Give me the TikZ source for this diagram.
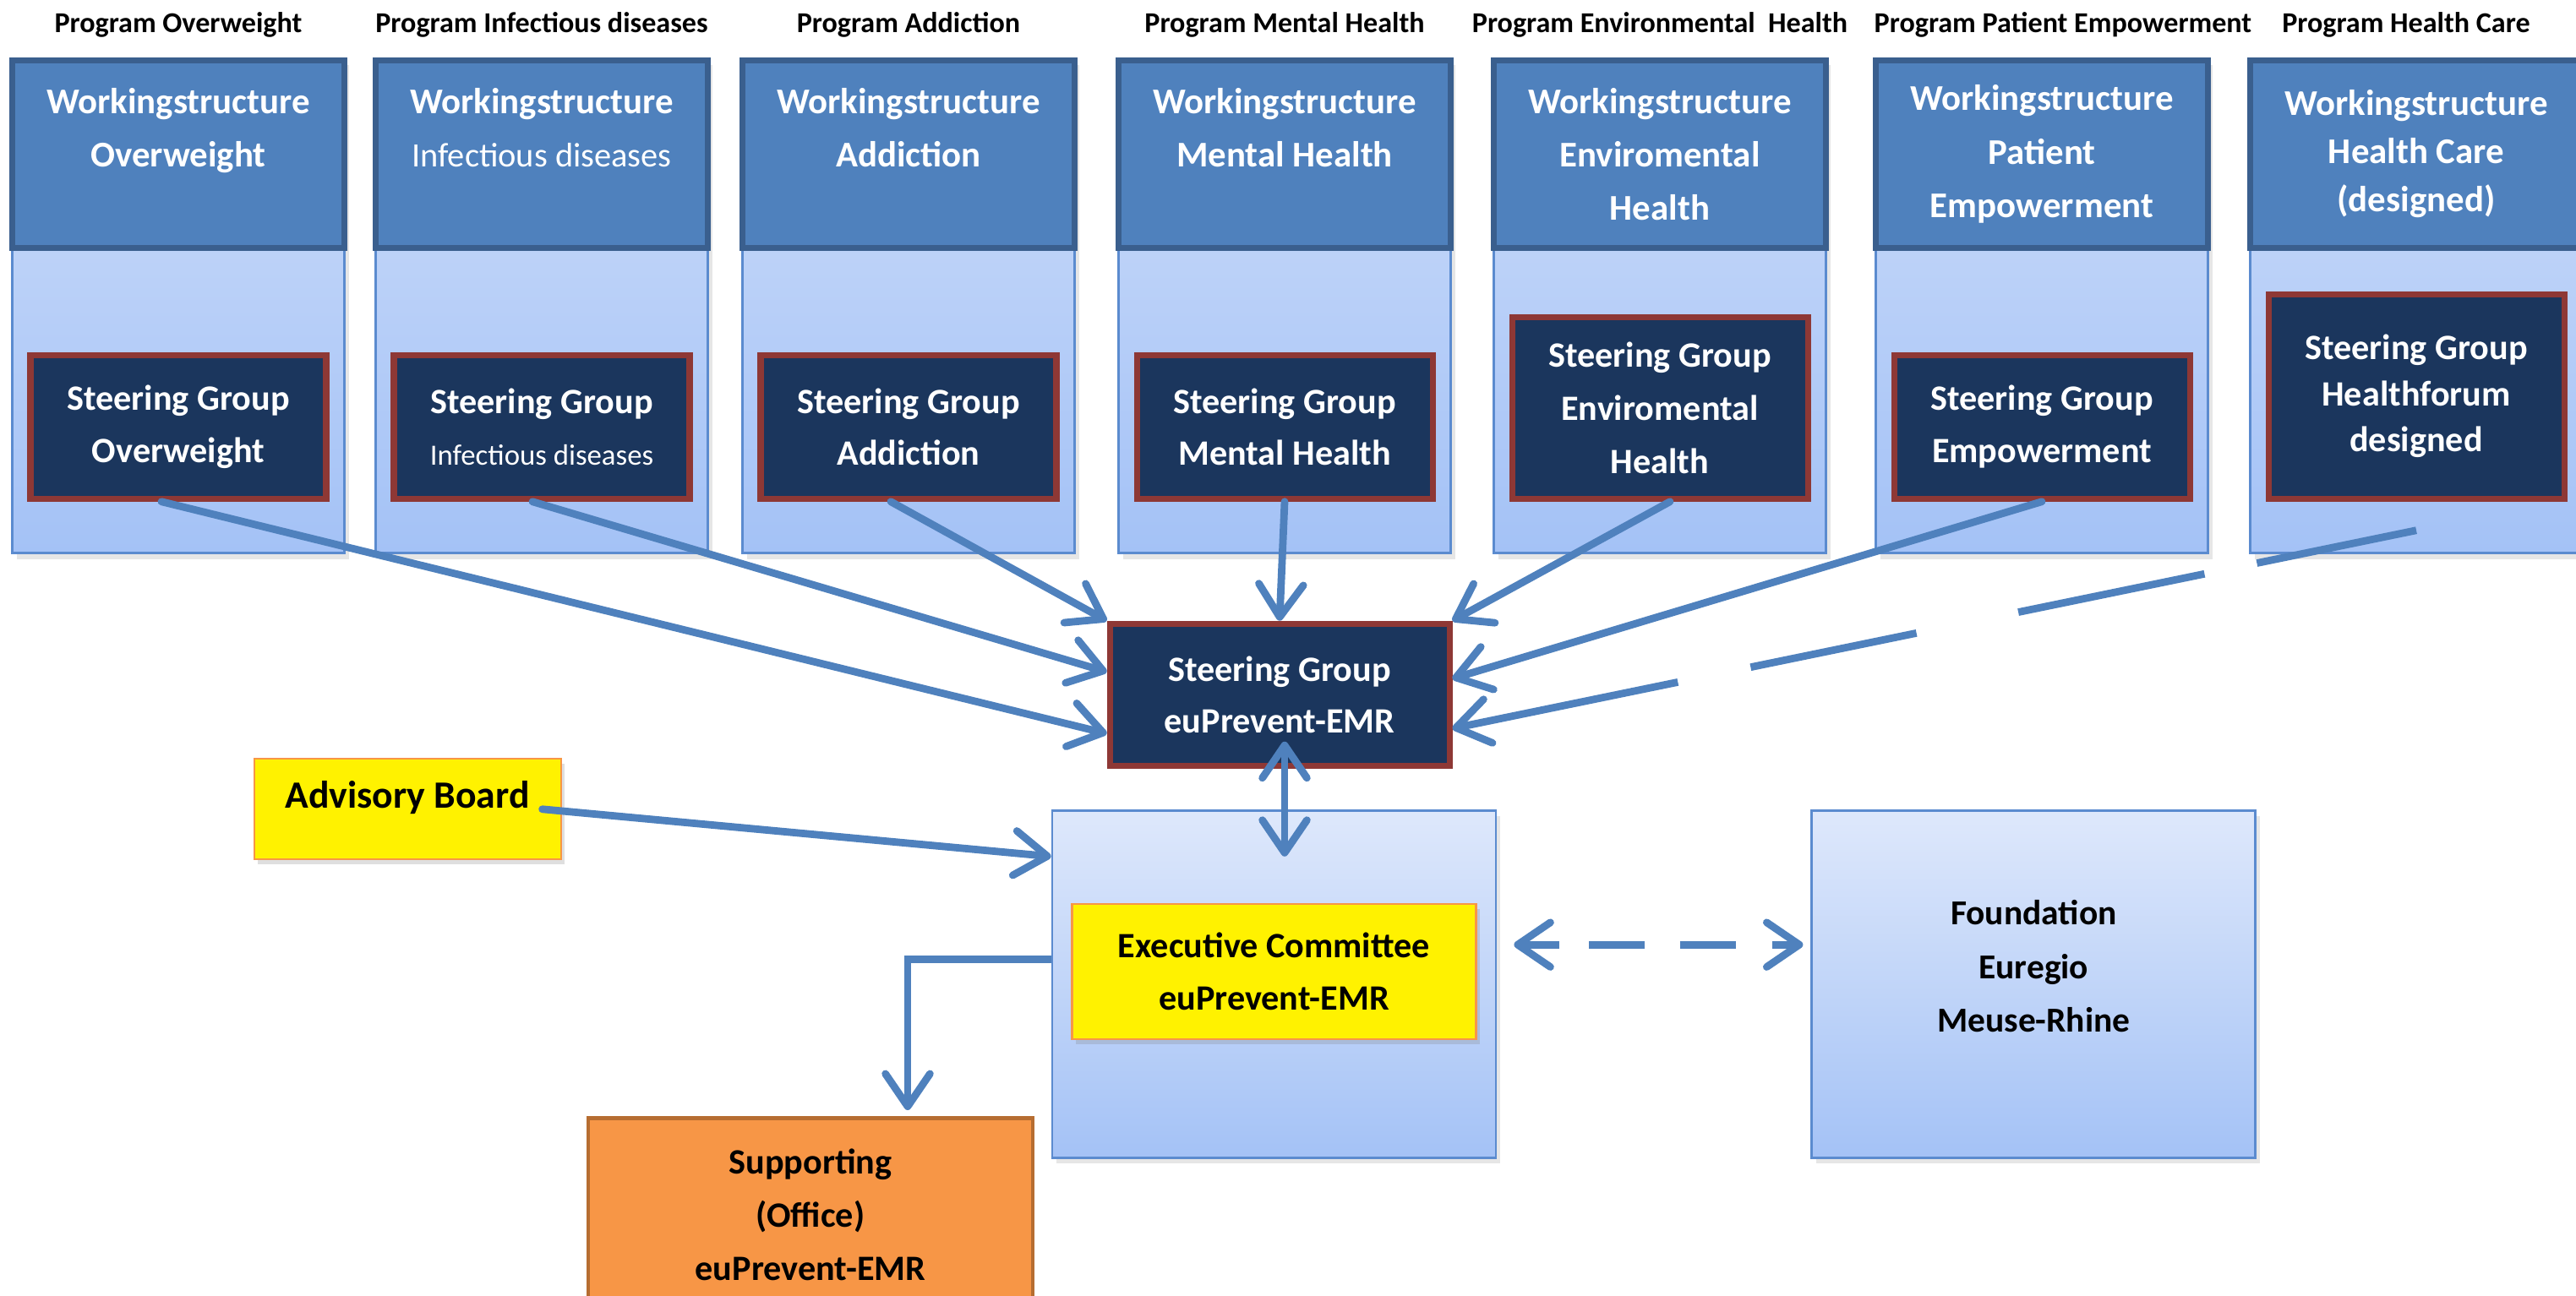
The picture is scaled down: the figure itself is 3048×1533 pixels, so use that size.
\documentclass[tikz,border=0pt]{standalone}
\usepackage{xcolor}
\usepackage{fontspec}
\setmainfont{Carlito}
\usepackage{tikz}
\usetikzlibrary{arrows.meta}
\usetikzlibrary{positioning,shadows}

\definecolor{wsblue}{HTML}{4F81BD}
\definecolor{wsline}{HTML}{3A5F8E}
\definecolor{colline}{HTML}{5B8BCF}
\definecolor{coltop}{HTML}{CCDCFA}
\definecolor{colbot}{HTML}{A4C2F6}
\definecolor{bigtop}{HTML}{DEE8FB}
\definecolor{sgnavy}{HTML}{1B365D}
\definecolor{sgred}{HTML}{8E3835}
\definecolor{ybline}{HTML}{F79646}
\definecolor{offfill}{HTML}{F79646}
\definecolor{offline}{HTML}{B66D31}

\begin{document}
\begin{tikzpicture}[x=0.1mm, y=-0.1mm, >={Straight Barb[length=11pt,width=15pt,round]}]
		\tikzstyle{proglabel}=[inner sep=0pt, font=\fontsize{9.7}{11}\selectfont\bfseries]
		\tikzstyle{column}=[draw=colline, line width=0.7pt, top color=coltop, bottom color=colbot, minimum width=39.3mm, minimum height=58.5mm, inner sep=0pt, drop shadow={opacity=0.2, shadow xshift=0.5mm, shadow yshift=-0.7mm}]
		\tikzstyle{wshead}=[draw=wsline, line width=1.8pt, fill=wsblue, text=white, minimum width=39.3mm, minimum height=22.2mm, inner sep=0pt, align=center, font=\fontsize{12.2}{18}\selectfont\bfseries]
		\tikzstyle{sgbox}=[draw=sgred, line width=2pt, fill=sgnavy, text=white, minimum width=35mm, minimum height=17mm, inner sep=0pt, align=center, font=\fontsize{12}{17.5}\selectfont\bfseries]
		\tikzstyle{bigbox}=[draw=colline, line width=0.8pt, top color=bigtop, bottom color=colbot, minimum width=52.5mm, minimum height=41.1mm, inner sep=0pt, align=center, font=\fontsize{11.8}{18}\selectfont\bfseries, drop shadow={opacity=0.2, shadow xshift=0.5mm, shadow yshift=-0.7mm}]
		\tikzstyle{yellowbox}=[draw=ybline, line width=0.6pt, fill=yellow, inner sep=0pt, align=center, font=\fontsize{12}{17.5}\selectfont\bfseries, drop shadow={opacity=0.25, shadow xshift=0.4mm, shadow yshift=-0.6mm}]
		\tikzstyle{office}=[draw=offline, line width=1.4pt, fill=offfill, minimum width=52.6mm, minimum height=22.8mm, inner sep=0pt, align=center, font=\fontsize{12}{17.9}\selectfont\bfseries]
		\tikzstyle{link}=[draw=wsblue, line width=2.5pt, line cap=round]
		\tikzstyle{dashlink}=[draw=wsblue, line width=2.5pt]
		\clip (0,0) rectangle (3048,1533);
		% programs
		\node[column] (col1) at (211,362) {};
		\node[column] (col2) at (641,362) {};
		\node[column] (col3) at (1075,362) {};
		\node[column] (col4) at (1520,362) {};
		\node[column] (col5) at (1964,362) {};
		\node[column] (col6) at (2416,362) {};
		\node[column] (col7) at (2859,362) {};
		\node[proglabel, above=2.3mm of col1.north] (pg1) {Program Overweight};
		\node[proglabel, above=2.3mm of col2.north] (pg2) {Program Infectious diseases};
		\node[proglabel, above=2.3mm of col3.north] (pg3) {Program Addiction};
		\node[proglabel, above=2.3mm of col4.north] (pg4) {Program Mental Health};
		\node[proglabel, above=2.3mm of col5.north] (pg5) {Program Environmental~ Health};
		\node[proglabel, above=2.3mm of col6.north, xshift=2.5mm] (pg6) {Program Patient Empowerment};
		\node[proglabel, above=2.3mm of col7.north, xshift=-1.2mm] (pg7) {Program Health Care};
		\node[wshead, below=0pt of col1.north] (ws1) {Workingstructure\\Overweight\\\mbox{}};
		\node[wshead, below=0pt of col2.north] (ws2) {Workingstructure\\{\fontsize{11.5}{18}\selectfont\mdseries Infectious diseases}\\\mbox{}};
		\node[wshead, below=0pt of col3.north] (ws3) {Workingstructure\\Addiction\\\mbox{}};
		\node[wshead, below=0pt of col4.north] (ws4) {Workingstructure\\Mental Health\\\mbox{}};
		\node[wshead, below=0pt of col5.north] (ws5) {Workingstructure\\Enviromental\\Health};
		\node[wshead, below=0pt of col6.north] (ws6) {Workingstructure\\Patient\\Empowerment};
		\node[wshead, below=0pt of col7.north, font=\fontsize{12.2}{16.2}\selectfont\bfseries] (ws7) {Workingstructure\\Health Care\\(designed)};
		\node[sgbox, above=6.2mm of col1.south] (sg1) {Steering Group\\Overweight};
		\node[sgbox, above=6.2mm of col2.south] (sg2) {Steering Group\\{\fontsize{9.9}{17.5}\selectfont\mdseries Infectious diseases}};
		\node[sgbox, above=6.2mm of col3.south] (sg3) {Steering Group\\Addiction};
		\node[sgbox, above=6.2mm of col4.south] (sg4) {Steering Group\\Mental Health};
		\node[sgbox, above=6.2mm of col5.south, minimum height=21.5mm, font=\fontsize{12}{18}\selectfont\bfseries] (sg5) {Steering Group\\Enviromental\\Health};
		\node[sgbox, above=6.2mm of col6.south] (sg6) {Steering Group\\Empowerment};
		\node[sgbox, above=6.2mm of col7.south, minimum height=24.2mm, font=\fontsize{12}{15.5}\selectfont\bfseries] (sg7) {Steering Group\\Healthforum\\designed};
		% euPrevent-EMR
		\node[sgbox, below=7.9mm of col4, xshift=-0.6mm, minimum width=40.2mm, minimum height=16.8mm] (sgemr) {Steering Group\\euPrevent-EMR};
		\node[bigbox, below=4.8mm of sgemr, xshift=-0.65mm] (exbox) {};
		\node[yellowbox, minimum width=47.8mm, minimum height=16mm] (excom) at ([yshift=1.5mm]exbox.center) {Executive Committee\\euPrevent-EMR};
		\node[bigbox, right=37.1mm of exbox, text depth=12pt] (found) {Foundation\\Euregio\\Meuse-Rhine};
		\node[yellowbox, left=57.9mm of exbox.north west, minimum width=36.3mm, minimum height=11.9mm, text depth=10pt, font=\fontsize{13}{16}\selectfont\bfseries] (adv) {Advisory Board};
		\node[office, anchor=north] (supp) at (959,1321) {Supporting\\(Office)\\euPrevent-EMR};
		% connectors
		\draw[link, ->] ([xshift=-2mm]sg1.south) -- ([yshift=-4.6mm]sgemr.west);
		\draw[link, ->] ([xshift=-1.1mm]sg2.south) -- ([yshift=2.7mm]sgemr.west);
		\draw[link, ->] ([xshift=-2.1mm]sg3.south) -- (sgemr.north west);
		\draw[link, ->] (sg4.south) -- (sgemr.north);
		\draw[link, ->] ([xshift=1.2mm]sg5.south) -- (sgemr.north east);
		\draw[link, ->] (sg6.south) -- ([yshift=1.9mm]sgemr.east);
		\draw[dashlink, <-, dash pattern=on 75pt off 25pt on 57pt off 35pt on 64pt off 18pt on 59pt off 10pt] ([yshift=-4mm]sgemr.east) -- ([yshift=-3.4mm]sg7.south);
		\draw[link, <->] ([xshift=0.6mm,yshift=3.2mm]sgemr.south) -- ([xshift=1.25mm,yshift=-5.6mm]exbox.north);
		\draw[link, ->] ([xshift=-2.3mm]adv.east) -- ([yshift=-5.6mm]exbox.north west);
		\draw[link, ->, line cap=butt] ([yshift=2.95mm]exbox.west) -| ([xshift=11.5mm,yshift=0.7mm]supp.north);
		\draw[dashlink, <->, dash pattern=on 12.8pt off 10pt on 18.8pt off 11.7pt on 19pt off 12.2pt on 12.8pt off 10pt] ([xshift=2mm,yshift=4.65mm]exbox.east) -- ([xshift=-0.9mm,yshift=4.65mm]found.west);
	\end{tikzpicture}
\end{document}
